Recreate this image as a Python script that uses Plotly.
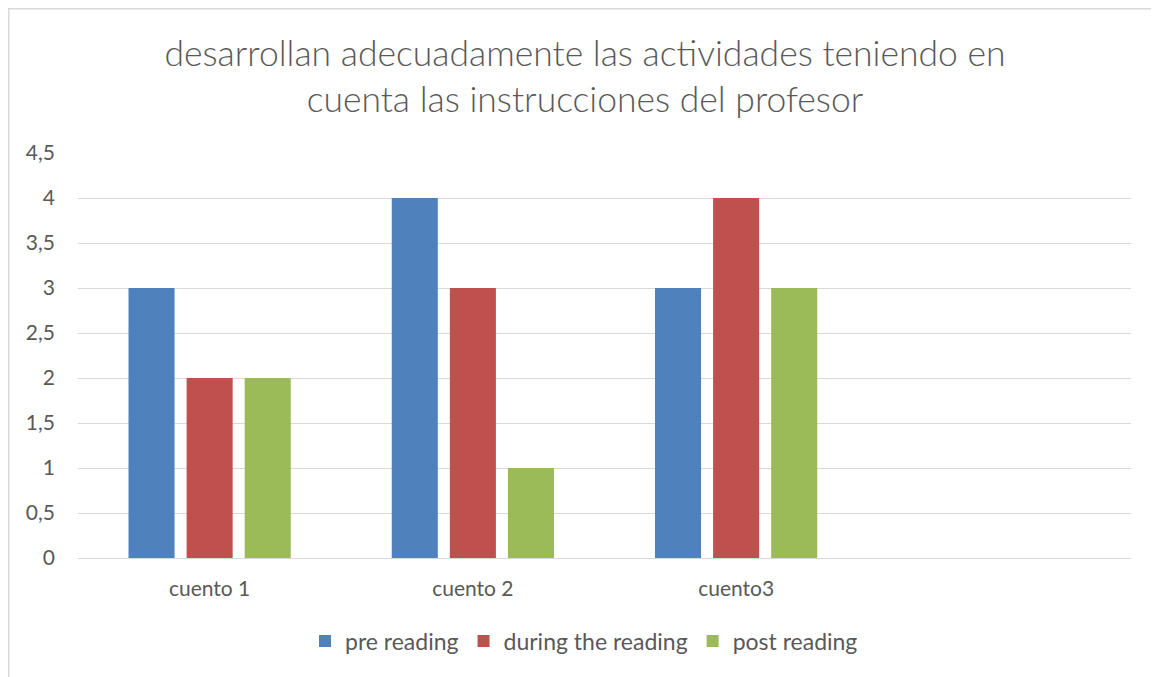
import plotly.graph_objects as go

categories = ["cuento 1", "cuento 2", "cuento3", " "]
pre_reading = [3, 4, 3, None]
during_reading = [2, 3, 4, None]
post_reading = [2, 1, 3, None]
series_names = ["pre reading", "during the reading", "post reading"]
colors = ["#4F81BD", "#C0504D", "#9BBB59"]
tick_vals = [0, 0.5, 1, 1.5, 2, 2.5, 3, 3.5, 4, 4.5]
tick_text = ["0", "0,5", "1", "1,5", "2", "2,5", "3", "3,5", "4", "4,5"]

# page body has an 8px margin, so the figure is placed at (8, 8) on screen
OFF = 8
W, H = 1159 - OFF, 677 - OFF
L, R, T, B = 78 - OFF, 28, 153 - OFF, 119
font = "Lato, 'Open Sans', sans-serif"

fig = go.Figure()
for name, vals, c in zip(series_names, [pre_reading, during_reading, post_reading], colors):
    fig.add_trace(go.Bar(x=categories, y=vals, name=name, marker=dict(color=c, line=dict(width=0))))

pw = W - L - R
ph = H - T - B
fig.update_layout(
    width=W, height=H,
    margin=dict(l=L, r=R, t=T, b=B),
    paper_bgcolor="white", plot_bgcolor="white",
    barmode="group", bargap=0.338, bargroupgap=0.207,
    title=dict(text="desarrollan adecuadamente las actividades teniendo en<br>cuenta las instrucciones del profesor",
               x=(585 - OFF) / W, xanchor="center", y=1 - (66 - OFF) / H, yanchor="middle",
               font=dict(family=font, size=35.5, color="#595959", weight=300)),
    font=dict(family=font, color="#595959"),
    xaxis=dict(showgrid=False, showline=False, ticks="", tickfont=dict(size=21, color="#595959"),
               ticklabelstandoff=16, fixedrange=True),
    yaxis=dict(range=[0, 4.5], tickvals=tick_vals, ticktext=tick_text, showgrid=True,
               gridcolor="#D9D9D9", gridwidth=1, zeroline=True, zerolinecolor="#D9D9D9",
               zerolinewidth=1, showline=False, ticks="", ticklabelstandoff=22,
               tickfont=dict(size=21, color="#595959")),
    legend=dict(orientation="h", x=(584 - 78) / pw, xanchor="center",
                y=-(641 - 558) / ph, yanchor="middle",
                font=dict(size=23, color="#595959"), itemwidth=30, traceorder="normal"),
    showlegend=True,
)
fig.add_shape(type="rect", xref="paper", yref="paper",
              x0=(0.75 - L) / pw, x1=(W + 20 - L) / pw,
              y0=-(H + 20 - T - ph) / ph, y1=1 + (T - 0.75) / ph,
              line=dict(color="#D9D9D9", width=1.5), layer="below")
fig.write_html("out.html")
